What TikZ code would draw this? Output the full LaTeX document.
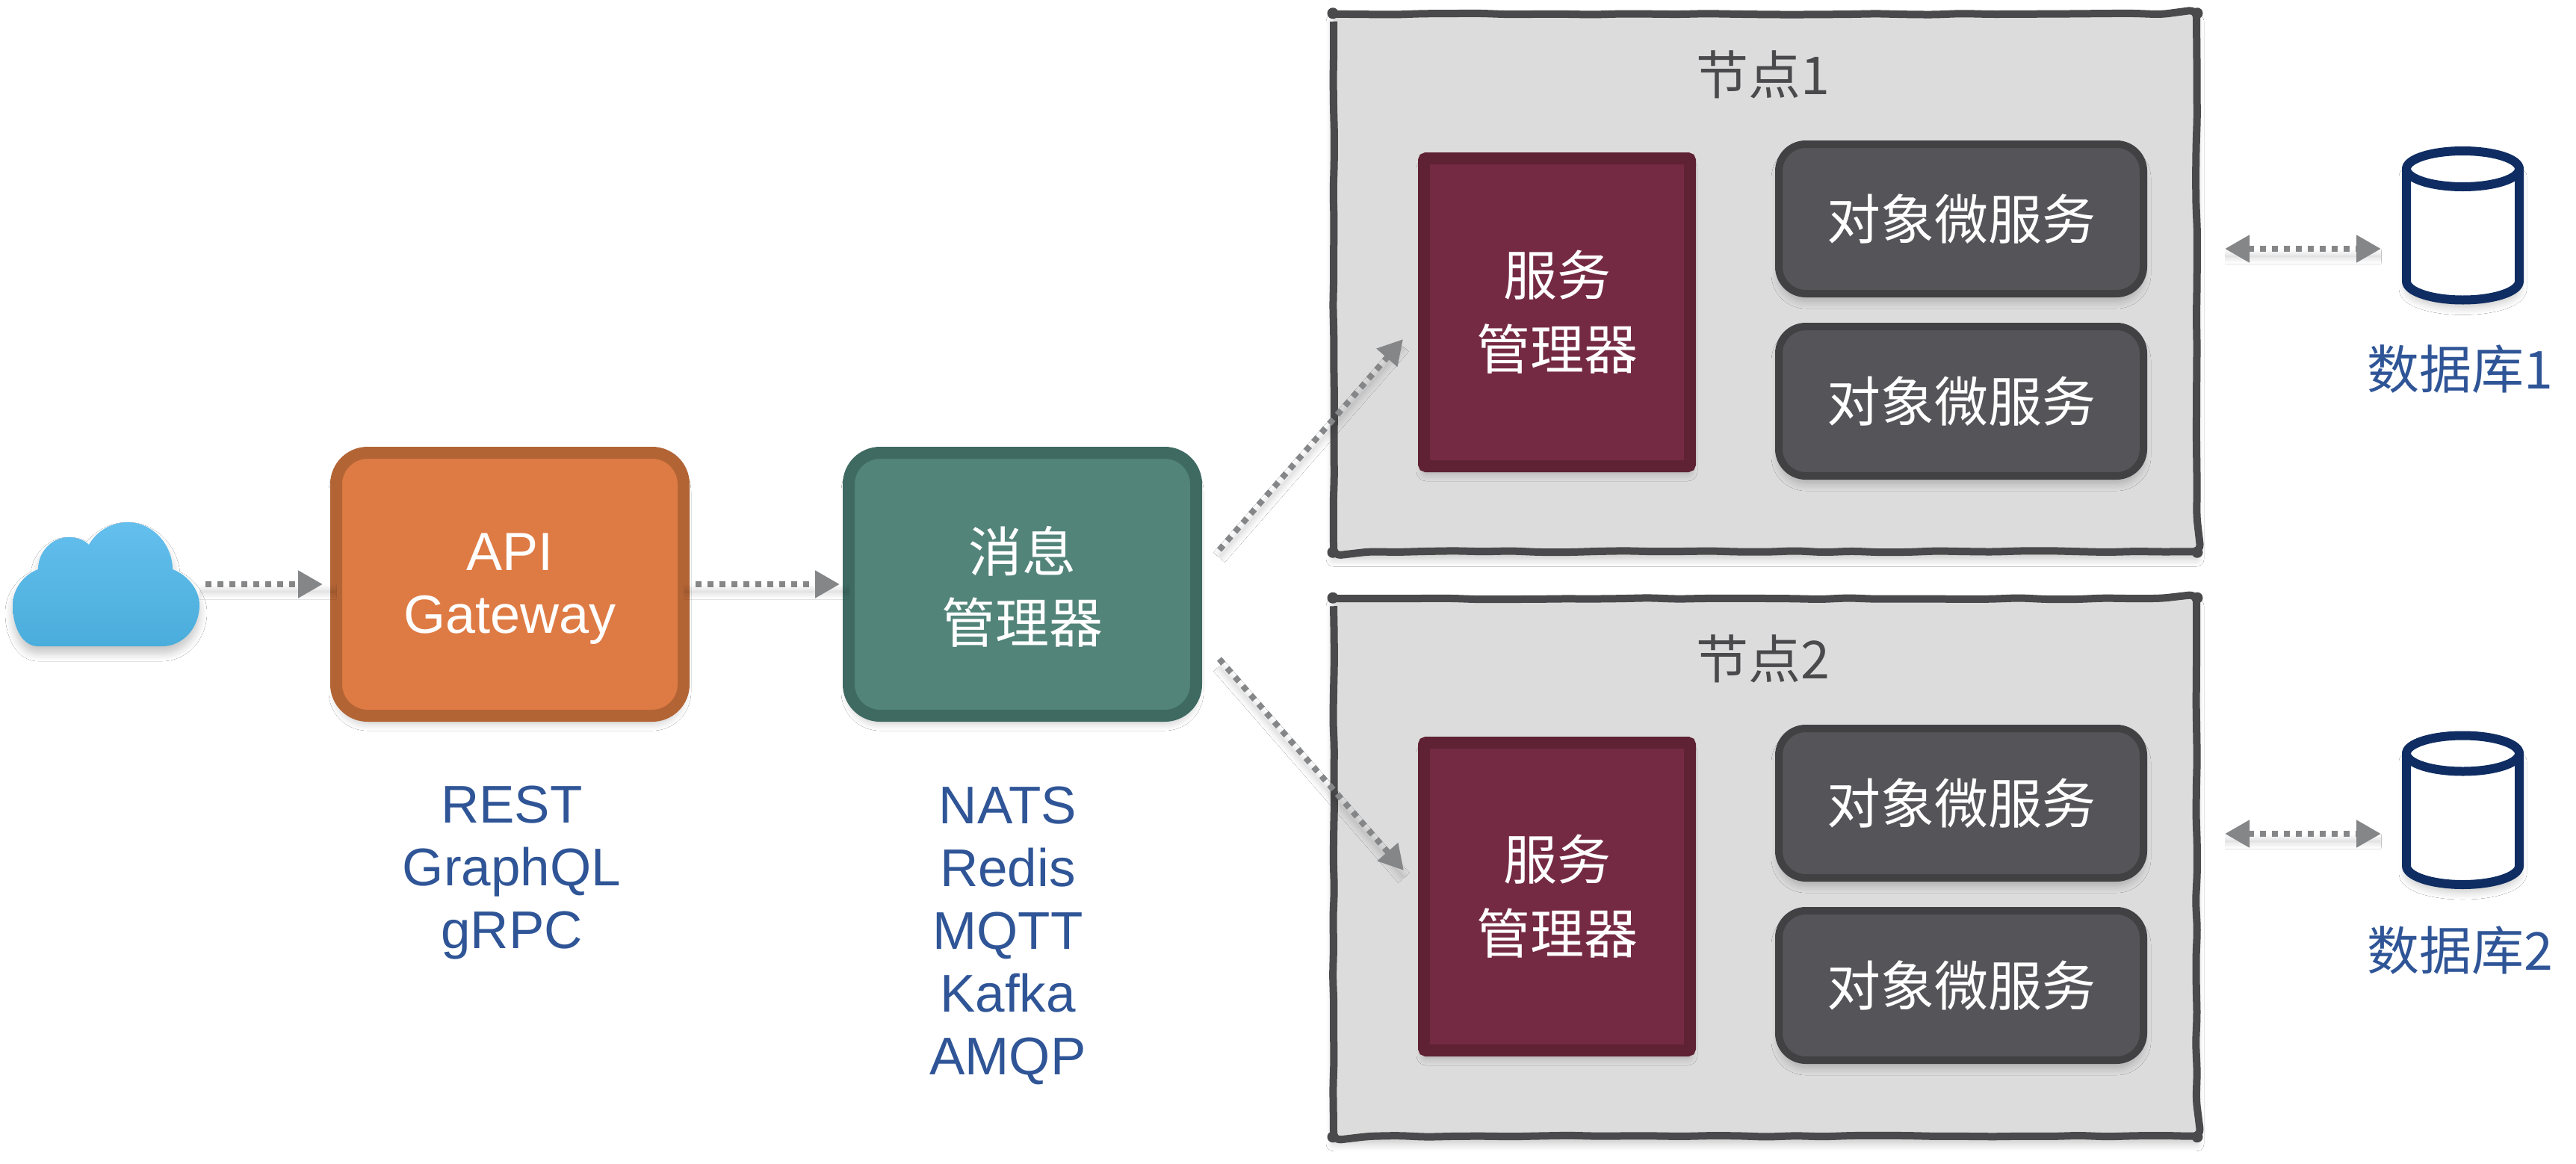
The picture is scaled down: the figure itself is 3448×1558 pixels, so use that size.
\documentclass[tikz,border=0pt]{standalone}
\usepackage{fontspec}
\setmainfont{Liberation Sans}
\newfontfamily\cjk{Noto Sans CJK SC}
\usetikzlibrary{arrows.meta,decorations.pathmorphing,shadows.blur,positioning}
\definecolor{orangefill}{HTML}{DE7B44}
\definecolor{orangeedge}{HTML}{B36435}
\definecolor{greenfill}{HTML}{52847A}
\definecolor{greenedge}{HTML}{3F6A62}
\definecolor{winefill}{HTML}{752A43}
\definecolor{wineedge}{HTML}{5F2235}
\definecolor{slatefill}{HTML}{545459}
\definecolor{slateedge}{HTML}{414144}
\definecolor{panelfill}{HTML}{DCDCDC}
\definecolor{paneledge}{HTML}{4A4A4C}
\definecolor{navyedge}{HTML}{0F2D62}
\definecolor{labelblue}{HTML}{2F5597}
\definecolor{flowgray}{HTML}{858688}
\definecolor{cloudtop}{HTML}{64BFED}
\definecolor{cloudbot}{HTML}{4AADDB}
\tikzset{
  softshadow/.style={blur shadow={shadow xshift=0pt,shadow yshift=-10pt,shadow blur radius=10pt,shadow blur steps=8,shadow opacity=22}},
  bigbox/.style={draw=#1edge,fill=#1fill,line width=16pt,rounded corners=42pt,minimum width=465pt,minimum height=352pt,inner sep=0pt,outer sep=0pt,softshadow},
  boxtext/.style={text=white,inner sep=0pt,align=center},
  panel/.style={fill=panelfill,minimum width=1155pt,minimum height=719.5pt,inner sep=0pt,outer sep=0pt,softshadow},
  wobble/.style={draw=paneledge,line width=10pt,line join=round,rounded corners=10pt,decoration={random steps,segment length=38pt,amplitude=1pt},decorate},
  manager/.style={draw=wineedge,fill=winefill,line width=16pt,rounded corners=3pt,minimum width=356pt,minimum height=412pt,inner sep=0pt,outer sep=0pt,text=white,align=center,softshadow,font=\cjk\fontsize{72}{99}\selectfont},
  micro/.style={draw=slateedge,fill=slatefill,line width=10pt,rounded corners=36pt,minimum width=488pt,minimum height=200pt,inner sep=0pt,outer sep=0pt,text=white,softshadow,font=\cjk\fontsize{72}{84}\selectfont},
  paneltitle/.style={text=paneledge,inner sep=0pt,font=\cjk\fontsize{70}{80}\selectfont},
  dblabel/.style={text=labelblue,inner sep=0pt,font=\cjk\fontsize{70}{80}\selectfont},
  bluelist/.style={text=labelblue,inner sep=0pt,align=center,font=\fontsize{71}{84}\selectfont},
  holder/.style={inner sep=0pt,outer sep=0pt,draw=none,fill=none},
  flow/.style={draw=flowgray,line width=8pt,dash pattern=on 8pt off 8pt,-{Triangle[length=33pt,width=35pt]},softshadow},
  flowtwo/.style={draw=flowgray,line width=8pt,dash pattern=on 8pt off 8pt,{Triangle[length=33pt,width=35pt]}-{Triangle[length=33pt,width=35pt]},softshadow},
  cylpart/.style={draw=navyedge,fill=white,line width=12pt,line join=round},
}
\newcommand{\cylat}[1]{%
  \begin{scope}[shift={(#1)}]
    \path[cylpart,softshadow] (-75.5,-75.5) -- (-75.5,75) arc (180:0:75.5 and 25) -- (75.5,-75.5) -- cycle;
    \path[cylpart] (0,-75.5) ellipse (75.5 and 24);
  \end{scope}}
\newcommand{\panelframe}[1]{%
  \draw[wobble] (#1.north west) rectangle (#1.south east);
  \fill[paneledge] ([shift={(-1,-1)}]#1.north west) circle (7.5pt);
  \fill[paneledge] ([shift={(1,-1)}]#1.north east) circle (7.5pt);
  \fill[paneledge] ([shift={(-1,1)}]#1.south west) circle (7.5pt);
  \fill[paneledge] ([shift={(1,1)}]#1.south east) circle (7.5pt);}
\begin{document}
\begin{tikzpicture}[x=1pt,y=-1pt]
\pgfmathsetseed{7}
\useasboundingbox (0,0) rectangle (3448,1558);
\fill[white] (0,0) rectangle (3448,1558);
% cloud
\path[top color=cloudtop,bottom color=cloudbot,softshadow]
  (51,865) .. controls (30,865) and (17,840) .. (17,810)
  .. controls (17,790) and (30,770) .. (51,762)
  .. controls (51,738) and (70,719) .. (92,719)
  .. controls (103,719) and (113,723) .. (119,729)
  .. controls (130,710) and (150,699) .. (171,699)
  .. controls (205,699) and (231,730) .. (231,762)
  .. controls (252,770) and (267,790) .. (267,810)
  .. controls (267,840) and (245,865) .. (217,865) -- cycle;
\node[holder,minimum width=250pt,minimum height=166pt] (cloud) at (142,782) {};
% main boxes
\node[bigbox=orange] (gw) at (682.5,782) {};
\node[bigbox=green] (mq) at (1368.5,782) {};
\node[boxtext,font=\fontsize{72}{84}\selectfont] (gwt) at ([shift={(0,6)}]gw.center) {API\\Gateway};
\node[boxtext,font=\cjk\fontsize{72}{95}\selectfont] (mqt) at ([shift={(0,3)}]mq.center) {消息\\管理器};
\node[bluelist] (gwlist) at (685,1168) {REST\\GraphQL\\gRPC};
\node[bluelist] (mqlist) at (1349,1252) {NATS\\Redis\\MQTT\\Kafka\\AMQP};
% panels
\node[panel] (n1) at (2362.5,378.5) {};
\node[panel] (n2) at (2362.5,1161) {};
\panelframe{n1}
\panelframe{n2}
\node[paneltitle] (t1) at (2360,100) {节点1};
\node[paneltitle] (t2) at (2360,882) {节点2};
\node[manager] (sm1) at (2084,418) {服务\\管理器};
\node[manager] (sm2) at (2084,1200) {服务\\管理器};
\node[micro] (a1) at (2625,293) {对象微服务};
\node[micro] (a2) at (2625,537) {对象微服务};
\node[micro] (b1) at (2625,1075) {对象微服务};
\node[micro] (b2) at (2625,1319) {对象微服务};
% databases
\cylat{3296.5,301.5}
\cylat{3296.5,1084}
\node[holder,minimum width=163pt,minimum height=210pt] (db1) at (3296.5,301.5) {};
\node[holder,minimum width=163pt,minimum height=210pt] (db2) at (3296.5,1084) {};
\node[dblabel] (dl1) at (3293,494) {数据库1};
\node[dblabel] (dl2) at (3293,1272) {数据库2};
% connectors
\draw[flow,shorten <=8pt,shorten >=18pt] (cloud.east) -- (gw.west);
\draw[flow,shorten <=16pt,shorten >=12pt] (gw.east) -- (mq.west);
\draw[flow] ([shift={(31,-46)}]mq.east) -- ([shift={(-28,36)}]sm1.west);
\draw[flow] ([shift={(31,100)}]mq.east) -- ([shift={(-27,-35)}]sm2.west);
\draw[flowtwo] ([shift={(38,-45.5)}]n1.east) -- ([shift={(-28,31.5)}]db1.west);
\draw[flowtwo] ([shift={(38,-45)}]n2.east) -- ([shift={(-28,32)}]db2.west);
\end{tikzpicture}
\end{document}
